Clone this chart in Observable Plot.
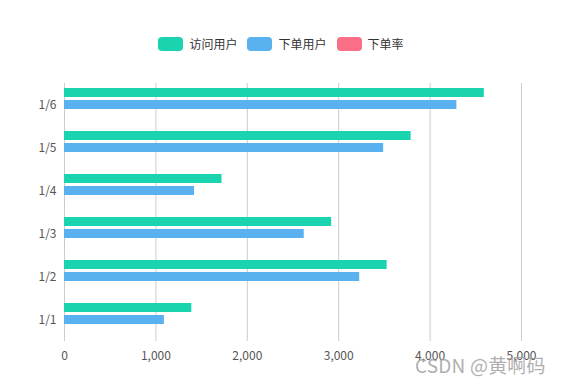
<!DOCTYPE html>
<html>
<head>
<meta charset="utf-8">
<script src="https://cdn.jsdelivr.net/npm/d3@7"></script>
<script src="https://cdn.jsdelivr.net/npm/@observablehq/plot@0.6"></script>
<style>
  html, body { margin: 0; padding: 0; background: #fff; }
  body { width: 562px; height: 384px; position: relative; overflow: hidden;
         font-family: "Noto Sans CJK SC", "Noto Sans", sans-serif; }
  #legend { height: 60px; box-sizing: border-box; padding-top: 27px; display: flex;
            justify-content: center; align-items: center; font-size: 12px; color: #333; }
  .item { display: flex; align-items: center; height: 14px; margin: 0 5px; }
  .swatch { width: 25px; height: 14px; border-radius: 4px; margin-right: 6px; }
  .item span { line-height: 14px; }
  #wm { position: absolute; left: 415px; top: 351px; font-size: 19px; color: rgba(160,160,160,0.85);
        white-space: nowrap; letter-spacing: 0.2px; }
</style>
</head>
<body>
<div id="legend"></div>
<div id="chart"></div>
<div id="wm">CSDN @黄啊码</div>
<script>
const dates = ["1/1", "1/2", "1/3", "1/4", "1/5", "1/6"];
const series = ["访问用户", "下单用户", "下单率"];
const visits = [1393, 3530, 2923, 1723, 3792, 4593];
const orders = [1093, 3230, 2623, 1423, 3492, 4293];
const rates = [0.32, 0.26, 0.76, 0.49, 0.323, 0.78];
const colors = ["#19d4ae", "#5ab1ef", "#fa6e86"];
const xTicks = [0, 1000, 2000, 3000, 4000, 5000];

const rows = [];
dates.forEach((d, i) => {
  rows.push({date: d, series: series[0], value: visits[i]});
  rows.push({date: d, series: series[1], value: orders[i]});
  rows.push({date: d, series: series[2], value: rates[i]});
});

// legend
const legend = document.getElementById("legend");
series.forEach((s, i) => {
  const it = document.createElement("div");
  it.className = "item";
  it.innerHTML = `<div class="swatch" style="background:${colors[i]}"></div><span>${s}</span>`;
  legend.appendChild(it);
});

const chart = Plot.plot({
  width: 562,
  height: 324,
  marginLeft: 64,
  marginRight: 41,
  marginTop: 22,
  marginBottom: 42,
  style: {fontSize: "12px", fontFamily: '"Noto Sans CJK SC", "Noto Sans", sans-serif', color: "#555", background: "#fff"},
  x: {domain: [0, 5000], ticks: xTicks, tickFormat: d3.format(","), tickSize: 0, tickPadding: 10, label: null},
  fy: {domain: dates.slice().reverse(), padding: 0, axis: "left", tickSize: 0, tickPadding: 8, label: null},
  y: {domain: series, paddingInner: 0.23, paddingOuter: 0.35, axis: null},
  color: {domain: series, range: colors},
  marks: [
    Plot.ruleX(xTicks, {stroke: "#ccc", strokeWidth: 1}),
    Plot.barX(rows, {fy: "date", y: "series", x: "value", fill: "series"})
  ]
});
document.getElementById("chart").appendChild(chart);
</script>
</body>
</html>
